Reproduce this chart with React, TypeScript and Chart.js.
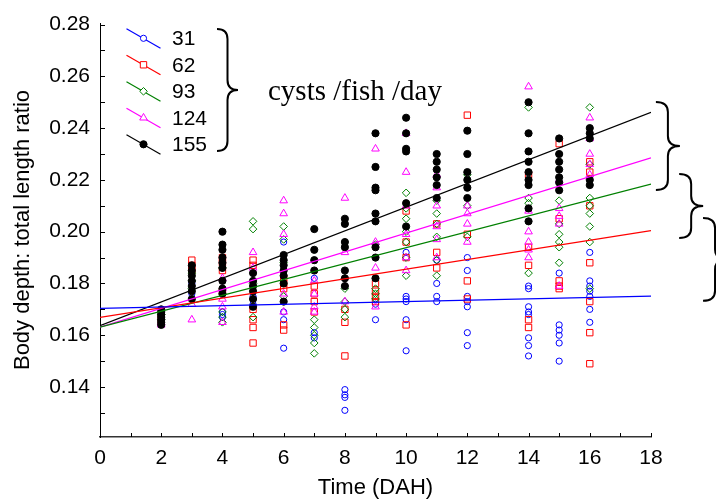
import React, { useEffect, useRef } from "react";
import { Chart, registerables } from "chart.js";

Chart.register(...registerables);

// ---------- data ----------
const days = [2, 3, 4, 5, 6, 7, 8, 9, 10, 11, 12, 14, 15, 16];
const groupLabels = ["31", "62", "93", "124", "155"];

// values per day (aligned with `days`)
const s31: number[][] = [
  [0.166, 0.168],
  [0.176, 0.18],
  [0.169, 0.168, 0.167],
  [0.175, 0.172],
  [0.196, 0.169, 0.166, 0.155],
  [0.182, 0.161, 0.159],
  [0.139, 0.137, 0.136, 0.131],
  [0.166, 0.172],
  [0.192, 0.175, 0.174, 0.173, 0.166, 0.154],
  [0.189, 0.18, 0.175, 0.173],
  [0.19, 0.185, 0.175, 0.173, 0.171, 0.161, 0.156],
  [0.179, 0.178, 0.171, 0.169, 0.168, 0.159, 0.156, 0.152],
  [0.184, 0.164, 0.162, 0.16, 0.157, 0.15],
  [0.192, 0.181, 0.179, 0.177, 0.175, 0.17, 0.165],
];
const s62: number[][] = [
  [0.165, 0.167],
  [0.189, 0.187, 0.185],
  [0.19, 0.188, 0.185, 0.177],
  [0.189, 0.187, 0.17, 0.166, 0.163, 0.157],
  [0.182, 0.18, 0.178, 0.164, 0.162],
  [0.179, 0.176, 0.173, 0.169],
  [0.17, 0.165, 0.152],
  [0.18, 0.177, 0.175, 0.173],
  [0.208, 0.196, 0.19, 0.164],
  [0.203, 0.192, 0.186],
  [0.245, 0.199, 0.181, 0.174],
  [0.222, 0.194, 0.187, 0.166, 0.163],
  [0.234, 0.205, 0.181, 0.179, 0.178],
  [0.227, 0.223, 0.21, 0.188, 0.173, 0.161, 0.149],
];
const s93: number[][] = [
  [0.166, 0.168],
  [0.184, 0.181, 0.178],
  [0.186, 0.169, 0.167, 0.165],
  [0.204, 0.201, 0.18, 0.167],
  [0.202, 0.197, 0.188, 0.175],
  [0.166, 0.163, 0.16, 0.157, 0.153],
  [0.182, 0.178, 0.173, 0.17, 0.167],
  [0.195, 0.178, 0.176, 0.174],
  [0.215, 0.209, 0.205, 0.2, 0.196, 0.19, 0.183],
  [0.212, 0.207, 0.203, 0.198, 0.189, 0.183],
  [0.222, 0.21, 0.198],
  [0.248, 0.213, 0.211, 0.184],
  [0.212, 0.203, 0.199, 0.196, 0.194, 0.188],
  [0.248, 0.226, 0.213, 0.21, 0.207, 0.202, 0.196, 0.178],
];
const s124: number[][] = [
  [0.164, 0.165],
  [0.172, 0.166],
  [0.182, 0.178, 0.174, 0.171, 0.165],
  [0.192, 0.186],
  [0.212, 0.207, 0.199, 0.176, 0.169],
  [0.181, 0.176, 0.171, 0.169],
  [0.213, 0.192, 0.173],
  [0.232, 0.196, 0.186, 0.171],
  [0.238, 0.223, 0.21, 0.199, 0.19, 0.185],
  [0.222, 0.217, 0.21, 0.202, 0.197, 0.19],
  [0.21, 0.207, 0.203, 0.196],
  [0.256, 0.208, 0.2, 0.196, 0.193, 0.19],
  [0.22, 0.209, 0.206, 0.203, 0.179],
  [0.244, 0.236, 0.23, 0.226, 0.222],
];
const s155: number[][] = [
  [0.17, 0.169, 0.168, 0.167, 0.166, 0.165, 0.164],
  [0.187, 0.185, 0.183, 0.181, 0.179, 0.177, 0.174],
  [0.2, 0.195, 0.193, 0.19, 0.188, 0.186, 0.181, 0.178, 0.176],
  [0.184, 0.181, 0.179, 0.177, 0.174, 0.171],
  [0.191, 0.189, 0.187, 0.185, 0.183, 0.18, 0.173],
  [0.201, 0.193, 0.189, 0.185],
  [0.205, 0.203, 0.196, 0.194, 0.185, 0.182, 0.179],
  [0.238, 0.225, 0.217, 0.216, 0.207, 0.204, 0.194, 0.19, 0.182],
  [0.244, 0.238, 0.232, 0.231, 0.211, 0.202],
  [0.23, 0.227, 0.224, 0.221, 0.218, 0.213],
  [0.239, 0.23, 0.223, 0.22, 0.217, 0.213],
  [0.25, 0.238, 0.231, 0.227, 0.223, 0.22, 0.218, 0.209, 0.204],
  [0.236, 0.23, 0.227, 0.224, 0.221, 0.219, 0.216],
  [0.24, 0.238, 0.236, 0.22, 0.218],
];

// regression lines: value at x = 0 and x = 18
const fitX = [0, 18];
const fitStart = [0.1704, 0.1669, 0.1631, 0.1631, 0.1637];
const fitEnd = [0.1751, 0.2004, 0.2184, 0.2285, 0.2461];

const xTickLabels = [0, 2, 4, 6, 8, 10, 12, 14, 16, 18];
const yTickLabels = [0.14, 0.16, 0.18, 0.2, 0.22, 0.24, 0.26, 0.28];

const xTitle = "Time (DAH)";
const yTitle = "Body depth: total length ratio";
const unitText = "cysts /fish /day";

// ---------- styles ----------
const seriesValues = [s31, s62, s93, s124, s155];
const colors = ["#0000ff", "#ff0000", "#008000", "#ff00ff", "#000000"];
const shapes = ["circle", "rect", "rectRot", "triangle", "circle"];
const radii = [3.1, 4.5, 3.8, 4.4, 3.6];
const fills = ["rgba(0,0,0,0)", "rgba(0,0,0,0)", "rgba(0,0,0,0)", "rgba(0,0,0,0)", "#000000"];
const drawOrder = [5, 4, 3, 2, 1];

// right-hand braces (in axis units)
const braceX = [18.16, 18.92, 19.7];
const braceTop = [0.2501, 0.2223, 0.2053];
const braceBottom = [0.2161, 0.1976, 0.1733];

const SANS = '"Liberation Sans", Arial, Helvetica, sans-serif';
const SERIF = '"Liberation Serif", "Times New Roman", serif';

function drawBrace(ctx: CanvasRenderingContext2D, x0: number, y0: number, y1: number, w: number) {
  const xm = x0 + w / 2;
  const ym = (y0 + y1) / 2;
  const r = Math.min(10, (y1 - y0) / 4);
  ctx.beginPath();
  ctx.moveTo(x0, y0);
  ctx.quadraticCurveTo(xm, y0, xm, y0 + r);
  ctx.lineTo(xm, ym - r);
  ctx.quadraticCurveTo(xm, ym, x0 + w, ym);
  ctx.quadraticCurveTo(xm, ym, xm, ym + r);
  ctx.lineTo(xm, y1 - r);
  ctx.quadraticCurveTo(xm, y1, x0, y1);
  ctx.stroke();
}

function drawMarker(ctx: CanvasRenderingContext2D, i: number, x: number, y: number) {
  const r = radii[i];
  ctx.save();
  ctx.strokeStyle = colors[i];
  ctx.fillStyle = i === 4 ? "#000" : "#fff";
  ctx.lineWidth = 1;
  ctx.beginPath();
  if (shapes[i] === "circle") {
    ctx.arc(x, y, r, 0, Math.PI * 2);
  } else if (shapes[i] === "rect") {
    const s = r * Math.SQRT1_2;
    ctx.rect(x - s, y - s, 2 * s, 2 * s);
  } else if (shapes[i] === "rectRot") {
    ctx.moveTo(x, y - r);
    ctx.lineTo(x + r, y);
    ctx.lineTo(x, y + r);
    ctx.lineTo(x - r, y);
    ctx.closePath();
  } else {
    const e = r * Math.sqrt(3);
    ctx.moveTo(x, y - r);
    ctx.lineTo(x + e / 2, y + r / 2);
    ctx.lineTo(x - e / 2, y + r / 2);
    ctx.closePath();
  }
  ctx.fill();
  ctx.stroke();
  ctx.restore();
}

const decorPlugin = {
  id: "decor",
  afterDraw(chart: any) {
    const { ctx, chartArea: a, scales } = chart;
    const xs = scales.x;
    const ys = scales.y;
    ctx.save();
    // inward tick marks
    ctx.strokeStyle = "#000";
    ctx.lineWidth = 1;
    ctx.beginPath();
    ys.ticks.forEach((t: any) => {
      const py = Math.round(ys.getPixelForValue(t.value)) + 0.5;
      ctx.moveTo(a.left, py);
      ctx.lineTo(a.left + 5, py);
    });
    xs.ticks.forEach((t: any) => {
      const px = Math.round(xs.getPixelForValue(t.value)) + 0.5;
      ctx.moveTo(px, a.bottom);
      ctx.lineTo(px, a.bottom - 4);
    });
    ctx.stroke();

    // axis titles
    ctx.fillStyle = "#000";
    ctx.font = `22px ${SANS}`;
    ctx.textAlign = "center";
    ctx.textBaseline = "middle";
    ctx.fillText(xTitle, (a.left + a.right) / 2, chart.height - 13);
    ctx.save();
    ctx.translate(23, (a.top + a.bottom) / 2);
    ctx.rotate(-Math.PI / 2);
    ctx.fillText(yTitle, 0, 0);
    ctx.restore();

    // legend
    for (let i = 0; i < groupLabels.length; i++) {
      const cy = a.top + 15.3 + 26.5 * i;
      const cx = a.left + 43.5;
      ctx.strokeStyle = colors[i];
      ctx.lineWidth = 1.2;
      ctx.beginPath();
      ctx.moveTo(cx - 17, cy - 9.5);
      ctx.lineTo(cx + 17, cy + 10);
      ctx.stroke();
      drawMarker(ctx, i, cx, cy);
      ctx.fillStyle = "#000";
      ctx.font = `21px ${SANS}`;
      ctx.textAlign = "left";
      ctx.textBaseline = "middle";
      ctx.fillText(groupLabels[i], a.left + 72, cy + 1);
    }
    ctx.strokeStyle = "#000";
    ctx.lineWidth = 2;
    drawBrace(ctx, a.left + 117, a.top + 6, a.top + 128, 21);
    ctx.font = `29px ${SERIF}`;
    ctx.textAlign = "left";
    ctx.textBaseline = "alphabetic";
    ctx.fillText(unitText, a.left + 168, a.top + 77);

    // right braces
    ctx.lineWidth = 2;
    for (let i = 0; i < braceX.length; i++) {
      const x0 = xs.getPixelForValue(braceX[i]);
      drawBrace(ctx, x0, ys.getPixelForValue(braceTop[i]), ys.getPixelForValue(braceBottom[i]), 24);
    }
    ctx.restore();
  },
};

export default function App() {
  const ref = useRef<HTMLCanvasElement>(null);
  useEffect(() => {
    document.body.style.margin = "0";
    const canvas = ref.current!;
    const pointSets = seriesValues.map((vals, i) => ({
      label: groupLabels[i],
      data: vals.flatMap((col, d) => col.map((v) => ({ x: days[d], y: v }))),
      pointStyle: shapes[i],
      pointRadius: radii[i],
      pointBorderWidth: 1,
      borderColor: colors[i],
      backgroundColor: fills[i],
      pointBackgroundColor: fills[i],
      pointBorderColor: colors[i],
      showLine: false,
      order: drawOrder[i],
    }));
    const lineSets = seriesValues.map((_, i) => ({
      label: groupLabels[i] + " fit",
      data: [
        { x: fitX[0], y: fitStart[i] },
        { x: fitX[1], y: fitEnd[i] },
      ],
      showLine: true,
      pointRadius: 0,
      borderColor: colors[i],
      borderWidth: 1.2,
      fill: false,
      order: 0,
    }));
    const yMinor: number[] = [];
    for (let k = 13; k <= 28; k++) yMinor.push(k / 100);
    const xMinor: number[] = [];
    for (let k = 0; k <= 18; k++) xMinor.push(k);

    const chart = new Chart(canvas, {
      type: "scatter",
      data: { datasets: [...lineSets, ...pointSets] as any },
      options: {
        responsive: false,
        animation: false,
        layout: { padding: { top: 23, right: 65, left: 0, bottom: 0 } },
        plugins: { legend: { display: false }, tooltip: { enabled: false } },
        scales: {
          x: {
            type: "linear",
            min: 0,
            max: 18,
            afterBuildTicks: (s: any) => {
              s.ticks = xMinor.map((v) => ({ value: v }));
            },
            afterFit: (s: any) => {
              s.height = 64;
            },
            ticks: {
              autoSkip: false,
              maxRotation: 0,
              padding: 9,
              color: "#000",
              font: { size: 21, family: SANS },
              callback: (v: any) => (xTickLabels.includes(Number(v)) ? String(v) : ""),
            },
            grid: { display: false, drawTicks: false },
            border: { display: true, color: "#333", width: 1.5 },
          },
          y: {
            type: "linear",
            min: 0.1207,
            max: 0.2806,
            afterBuildTicks: (s: any) => {
              s.ticks = yMinor.map((v) => ({ value: v }));
            },
            afterFit: (s: any) => {
              s.width = 100;
            },
            ticks: {
              autoSkip: false,
              padding: 10,
              color: "#000",
              font: { size: 21, family: SANS },
              callback: (v: any) => {
                const n = Number(v);
                return yTickLabels.some((t) => Math.abs(t - n) < 1e-6) ? n.toFixed(2) : "";
              },
            },
            grid: { display: false, drawTicks: false },
            border: { display: true, color: "#000", width: 1 },
          },
        },
      },
      plugins: [decorPlugin],
    });
    return () => chart.destroy();
  }, []);
  return (
    <div style={{ position: "fixed", left: 0, top: 0, width: 716, height: 501, background: "#fff" }}>
      <canvas ref={ref} width={716} height={501} />
    </div>
  );
}
